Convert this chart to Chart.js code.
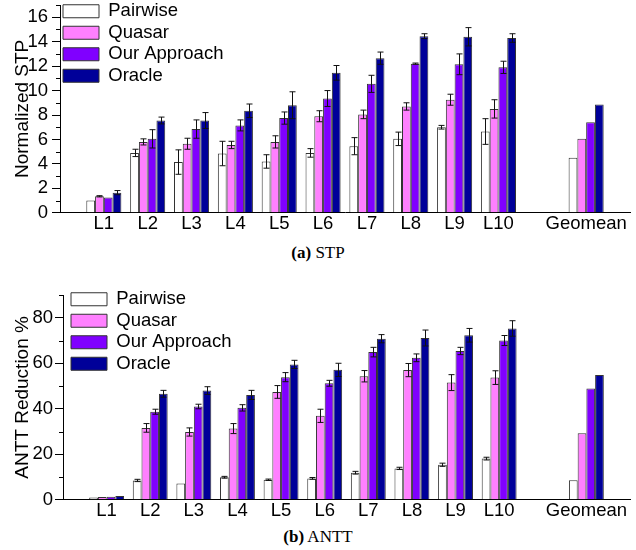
<!DOCTYPE html>
<html>
<head>
<meta charset="utf-8">
<script src="https://cdn.jsdelivr.net/npm/chart.js@4.4.0/dist/chart.umd.min.js"></script>
<style>
body { margin: 0; background: #fff; width: 636px; height: 550px; overflow: hidden; position: relative; }
.box { position: absolute; left: 0; width: 636px; }
.cap { position: absolute; left: 0; width: 636px; text-align: center; font-family: "Liberation Serif", "Times New Roman", serif; font-size: 17px; color: #000; }
</style>
</head>
<body>
<div class="box" style="top:0;height:237px"><canvas id="stp"></canvas></div>
<div class="cap" style="top:243px"><b>(a)</b> STP</div>
<div class="box" style="top:288px;height:236px"><canvas id="antt"></canvas></div>
<div class="cap" style="top:527px"><b>(b)</b> ANTT</div>
<script>
// categories, L1..L10 then Geomean
const cats = ['L1', 'L2', 'L3', 'L4', 'L5', 'L6', 'L7', 'L8', 'L9', 'L10', 'Geomean']
const series = ['Pairwise', 'Quasar', 'Our Approach', 'Oracle']

// (a) STP
const stpPairwise = [1.0, 4.9, 4.15, 4.85, 4.2, 4.9, 5.45, 6.05, 7.0, 6.65, 4.5]
const stpPairwiseErr = [null, 0.3, 1.0, 1.0, 0.55, 0.35, 0.7, 0.55, 0.15, 1.05, null]
const stpQuasar = [1.35, 5.8, 5.65, 5.55, 5.8, 7.9, 8.05, 8.7, 9.25, 8.5, 6.05]
const stpQuasarErr = [0.05, 0.25, 0.45, 0.3, 0.5, 0.45, 0.35, 0.3, 0.45, 0.75, null]
const stpOurs = [1.25, 6.05, 6.85, 7.15, 7.75, 9.35, 10.55, 12.2, 12.15, 11.9, 7.4]
const stpOursErr = [null, 0.75, 0.75, 0.45, 0.5, 0.65, 0.7, 0.05, 0.85, 0.5, null]
const stpOracle = [1.65, 7.55, 7.55, 8.35, 8.8, 11.45, 12.65, 14.45, 14.4, 14.3, 8.85]
const stpOracleErr = [0.17, 0.28, 0.65, 0.55, 1.1, 0.6, 0.5, 0.2, 0.75, 0.35, null]

// (b) ANTT reduction %
const anttPairwise = [1.0, 8.5, 7.2, 9.9, 8.8, 9.4, 11.9, 13.8, 15.4, 18.1, 8.6]
const anttPairwiseErr = [null, 0.5, null, 0.4, 0.3, 0.4, 0.6, 0.5, 0.7, 0.6, null]
const anttQuasar = [1.2, 31.6, 29.8, 31.3, 47.4, 36.9, 54.3, 57.0, 51.5, 53.7, 29.2]
const anttQuasarErr = [null, 1.9, 1.8, 2.2, 2.8, 2.9, 2.5, 2.9, 3.5, 3.0, null]
const anttOurs = [1.3, 38.7, 41.0, 40.4, 53.9, 51.2, 64.9, 62.4, 65.4, 70.0, 48.9]
const anttOursErr = [null, 1.1, 1.0, 1.4, 2.0, 1.3, 2.1, 1.7, 1.6, 2.2, null]
const anttOracle = [1.7, 46.6, 48.0, 46.1, 59.5, 57.1, 70.8, 71.1, 72.3, 75.3, 54.8]
const anttOracleErr = [null, 1.5, 1.7, 2.0, 1.8, 2.9, 1.8, 3.5, 3.0, 3.4, null]

const fills = ['#ffffff', '#ff80ff', '#8000ff', '#000099']

// empty slot before L1, between L10 and Geomean, and after Geomean
function pad(arr) {
    return [null].concat(arr.slice(0, 10), [null, arr[10], null])
}
const labels = pad(cats).map(v => v == null ? '' : v)

Chart.defaults.font.family = "'Liberation Sans', Arial, sans-serif"
Chart.defaults.font.size = 18.5
Chart.defaults.color = '#000'

const errorBars = {
    id: 'errorBars',
    afterDatasetsDraw(chart) {
        const ctx = chart.ctx
        const y = chart.scales.y
        ctx.save()
        ctx.strokeStyle = '#111'
        ctx.lineWidth = 1
        chart.data.datasets.forEach((ds, i) => {
            const meta = chart.getDatasetMeta(i)
            meta.data.forEach((bar, j) => {
                const v = ds.data[j]
                const e = ds.err[j]
                if (v == null || e == null) return
                const x = Math.round(bar.x) + 0.5
                const t = y.getPixelForValue(v + e)
                const b = y.getPixelForValue(v - e)
                ctx.beginPath()
                ctx.moveTo(x, t); ctx.lineTo(x, b)
                ctx.moveTo(x - 3, t); ctx.lineTo(x + 3, t)
                ctx.moveTo(x - 3, b); ctx.lineTo(x + 3, b)
                ctx.stroke()
            })
        })
        ctx.restore()
    }
}

const minorTicks = {
    id: 'minorTicks',
    afterDraw(chart, args, opts) {
        const ctx = chart.ctx
        const y = chart.scales.y
        ctx.save()
        ctx.strokeStyle = '#000'
        ctx.lineWidth = 1
        opts.values.forEach(v => {
            const p = Math.round(y.getPixelForValue(v)) + 0.5
            ctx.beginPath()
            ctx.moveTo(y.right - 4, p)
            ctx.lineTo(y.right, p)
            ctx.stroke()
        })
        ctx.restore()
    }
}

// nudge the in-plot legend
const legendShift = {
    id: 'legendShift',
    afterLayout(chart, args, opts) {
        const lg = chart.legend
        lg.left += opts.x; lg.right += opts.x
        lg.top += opts.y; lg.bottom += opts.y
    }
}

function makeChart(id, data, errs, yTitle, yMax, step, minor, axisW, tickPad, top, shift) {
    return new Chart(document.getElementById(id), {
        type: 'bar',
        data: {
            labels: labels,
            datasets: series.map((name, i) => ({
                label: name,
                data: pad(data[i]),
                err: pad(errs[i]),
                backgroundColor: fills[i],
                borderColor: '#333',
                borderWidth: 1,
                categoryPercentage: 0.8,
                barPercentage: 1.0
            }))
        },
        options: {
            responsive: true,
            maintainAspectRatio: false,
            animation: false,
            layout: { padding: { top: top, right: 6, bottom: 2, left: 0 } },
            scales: {
                x: {
                    offset: false,
                    grid: { display: false, drawTicks: false, tickLength: 0 },
                    border: { display: true, color: '#000', width: 1 },
                    ticks: { autoSkip: false, maxRotation: 0, padding: 0 }
                },
                y: {
                    min: 0,
                    max: yMax,
                    afterFit(scale) {
                        scale.width = axisW
                        scale.paddingTop = 0
                        scale.paddingBottom = 0
                    },
                    grid: { drawOnChartArea: false, drawTicks: true, tickLength: 8, color: '#000' },
                    border: { display: true, color: '#000', width: 1 },
                    ticks: { stepSize: step, includeBounds: false, autoSkip: false, padding: tickPad },
                    title: { display: true, text: yTitle, font: { size: 19 }, padding: { top: 11, bottom: 0 } }
                }
            },
            plugins: {
                legend: {
                    position: 'chartArea',
                    align: 'start',
                    labels: { boxWidth: 36, boxHeight: 13, padding: 3, color: '#000' }
                },
                tooltip: { enabled: false },
                minorTicks: { values: minor },
                legendShift: shift
            }
        },
        plugins: [errorBars, minorTicks, legendShift]
    })
}

makeChart('stp',
    [stpPairwise, stpQuasar, stpOurs, stpOracle],
    [stpPairwiseErr, stpQuasarErr, stpOursErr, stpOracleErr],
    'Normalized STP', 17, 2, [1, 3, 5, 7, 9, 11, 13, 15, 17], 60, 4, 5, { x: 0, y: -1 })

makeChart('antt',
    [anttPairwise, anttQuasar, anttOurs, anttOracle],
    [anttPairwiseErr, anttQuasarErr, anttOursErr, anttOracleErr],
    'ANTT Reduction %', 90, 20, [10, 30, 50, 70, 90], 63, 2, 7, { x: 5, y: -1 })
</script>
</body>
</html>
